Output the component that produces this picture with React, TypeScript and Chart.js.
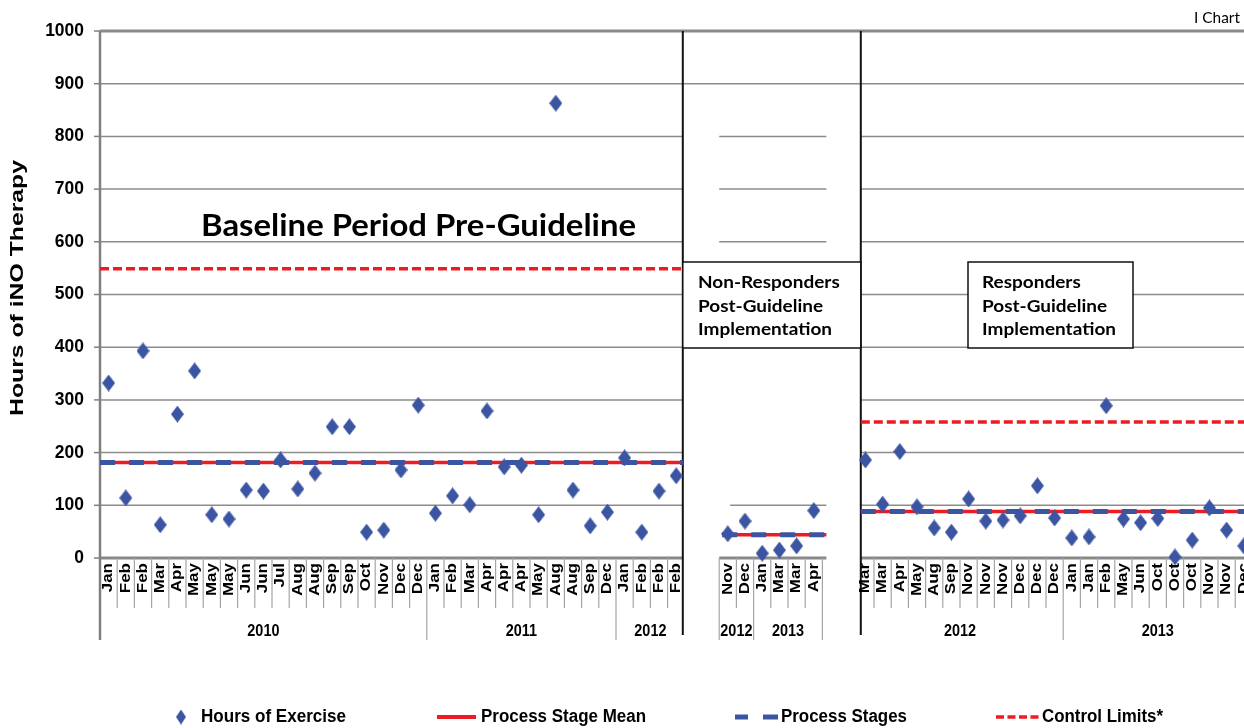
import React, { useEffect, useRef } from 'react';
import { Chart, registerables } from 'chart.js';

Chart.register(...registerables);

// ---------- data ----------
const baselineMonths = ['Jan','Feb','Feb','Mar','Apr','May','May','May','Jun','Jun','Jul','Aug','Aug','Sep','Sep','Oct','Nov','Dec','Dec','Jan','Feb','Mar','Apr','Apr','Apr','May','Aug','Aug','Sep','Dec','Jan','Feb','Feb','Feb'];
const baselineValues = [332,114,393,63,273,355,82,74,129,127,186,131,161,249,249,49,53,167,290,85,118,101,279,173,176,82,863,129,61,87,190,49,127,156];
const baselineYearLabels = ['2010', '2011', '2012'];
const baselineYearCounts = [19, 11, 4];

const nonResponderMonths = ['Nov','Dec','Jan','Mar','Mar','Apr'];
const nonResponderValues = [46,70,9,15,23,90];
const nonResponderYearLabels = ['2012', '2013'];
const nonResponderYearCounts = [2, 4];

const responderMonths = ['Mar','Mar','Apr','May','Aug','Sep','Nov','Nov','Nov','Dec','Dec','Dec','Jan','Jan','Feb','May','Jun','Oct','Oct','Oct','Nov','Nov','Dec'];
const responderValues = [186,102,202,97,57,49,112,70,72,80,137,76,38,40,289,74,67,75,2,34,95,53,23];
const responderYearLabels = ['2012', '2013'];
const responderYearCounts = [12, 11];

const stageMeans = [181, 44, 88];
const stageUpperLimits = [549, null, 258];

const yTickValues = [0,100,200,300,400,500,600,700,800,900,1000];

const legendLabels = ['Hours of Exercise', 'Process Stage Mean', 'Process Stages', 'Control Limits*'];

// ---------- derived ----------
const GAP = 2;
const categoryLabels = [
  ...baselineMonths, ...Array(GAP).fill(''),
  ...nonResponderMonths, ...Array(GAP).fill(''),
  ...responderMonths,
];
const exerciseHours = [
  ...baselineValues, ...Array(GAP).fill(null),
  ...nonResponderValues, ...Array(GAP).fill(null),
  ...responderValues,
];
const stageStart = [0, baselineMonths.length + GAP, baselineMonths.length + nonResponderMonths.length + 2 * GAP];
const stageLength = [baselineMonths.length, nonResponderMonths.length, responderMonths.length];
const stageYearLabels = [baselineYearLabels, nonResponderYearLabels, responderYearLabels];
const stageYearCounts = [baselineYearCounts, nonResponderYearCounts, responderYearCounts];

// ---------- styles ----------
const BLUE = '#3B55A3';
const RED = '#EC1C24';
const GRID = '#8c8c8c';
const AXIS = '#888888';
const SANS = '"Liberation Sans", Arial, sans-serif';
const CAL = 'Lato, "Open Sans", sans-serif';

function makeDiamond(w: number, h: number) {
  const c = document.createElement('canvas');
  c.width = w; c.height = h;
  const g = c.getContext('2d')!;
  g.fillStyle = BLUE;
  g.beginPath();
  g.moveTo(w / 2, 0); g.lineTo(w, h / 2); g.lineTo(w / 2, h); g.lineTo(0, h / 2);
  g.closePath(); g.fill();
  return c;
}

function hLine(ctx: CanvasRenderingContext2D, x1: number, x2: number, y: number, color: string, width: number, dash: number[] = []) {
  ctx.save();
  ctx.strokeStyle = color; ctx.lineWidth = width; ctx.setLineDash(dash);
  ctx.beginPath(); ctx.moveTo(x1, y); ctx.lineTo(x2, y); ctx.stroke();
  ctx.restore();
}
function vLine(ctx: CanvasRenderingContext2D, x: number, y1: number, y2: number, color: string, width: number) {
  ctx.save();
  ctx.strokeStyle = color; ctx.lineWidth = width;
  ctx.beginPath(); ctx.moveTo(x, y1); ctx.lineTo(x, y2); ctx.stroke();
  ctx.restore();
}
function text(ctx: CanvasRenderingContext2D, str: string, x: number, y: number, font: string,
  o: { align?: CanvasTextAlign; sx?: number; sy?: number; rot?: number; color?: string; fit?: number } = {}) {
  ctx.save();
  ctx.translate(x, y);
  if (o.rot) ctx.rotate(o.rot);
  ctx.font = font;
  let sx = o.sx ?? 1;
  if (o.fit) sx = o.fit / ctx.measureText(str).width;
  ctx.scale(sx, o.sy ?? 1);
  ctx.textAlign = o.align ?? 'left';
  ctx.textBaseline = 'middle';
  ctx.fillStyle = o.color ?? '#000';
  ctx.fillText(str, 0, 0);
  ctx.restore();
}

const CANVAS_W = 1262;
const CANVAS_H = 728;

const decorPlugin = {
  id: 'decor',
  beforeDatasetsDraw(chart: any) {
    const ctx: CanvasRenderingContext2D = chart.ctx;
    const xs = chart.scales.x, ys = chart.scales.y, area = chart.chartArea;
    const bnd = (k: number) => xs.getPixelForValue(k - 0.5);
    const py = (v: number) => ys.getPixelForValue(v);
    const sep1 = bnd(stageStart[0] + stageLength[0]) - 2;
    const sep2 = bnd(stageStart[2]) + 4;
    const midL = bnd(stageStart[1]);
    const midR = bnd(stageStart[1] + stageLength[1]) + 4;
    const right = area.right + 20;
    const bottom = area.bottom;

    // grid lines
    for (const v of yTickValues) {
      if (v === 0 || v === 1000) continue;
      hLine(ctx, area.left, sep1, py(v), GRID, 1.5);
      hLine(ctx, sep2, right, py(v), GRID, 1.5);
    }
    hLine(ctx, sep1, sep2, py(900), GRID, 1.5);
    for (const v of [800, 700, 600]) hLine(ctx, midL, midR, py(v), GRID, 1.5);
    hLine(ctx, midL + 11, midR, py(100), GRID, 1.5);
    // top border
    hLine(ctx, area.left, right, py(1000), '#8a8a8a', 3);

    // x axis lines
    hLine(ctx, area.left, sep1, bottom, AXIS, 3);
    hLine(ctx, midL, midR, bottom, AXIS, 3);
    hLine(ctx, sep2, right, bottom, AXIS, 3);

    // category / year separators under the axis
    const tickEnd = bottom + 50;
    const yearEnd = bottom + 82;
    for (let s = 0; s < 3; s++) {
      const start = stageStart[s], end = start + stageLength[s];
      const yearBounds = new Set<number>();
      let acc = start;
      for (const c of stageYearCounts[s]) { acc += c; yearBounds.add(acc); }
      for (let k = start; k <= end; k++) {
        if (s === 0 && (k === start || k === end)) continue;
        if (s === 2 && k === start) continue;
        const long = k === start || k === end || yearBounds.has(k);
        vLine(ctx, bnd(k), bottom, long ? yearEnd : tickEnd, '#a5a5a5', 1.2);
      }
    }
    // y axis line and ticks
    vLine(ctx, area.left, area.top, bottom + 82, '#808080', 2.5);
    for (const v of yTickValues) hLine(ctx, area.left - 6, area.left, py(v), '#808080', 1.5);

    // stage separators
    vLine(ctx, sep1, area.top, bottom + 77, '#111', 2);
    vLine(ctx, sep2, area.top, bottom + 77, '#111', 2);

    // control limits
    if (stageUpperLimits[0] != null) hLine(ctx, area.left, sep1, py(stageUpperLimits[0]!), RED, 3.5, [9, 4]);
    if (stageUpperLimits[2] != null) hLine(ctx, sep2, right, py(stageUpperLimits[2]!), RED, 3.5, [9, 4]);

    // stage means + process stages
    const spans = [[area.left, sep1], [midL + 3, midR], [sep2, right]];
    spans.forEach(([a, b], s) => {
      hLine(ctx, a, b, py(stageMeans[s]), RED, 3.5);
      hLine(ctx, a, b, py(stageMeans[s]), BLUE, 5, [15, 14]);
    });
  },
  afterDatasetsDraw(chart: any) {
    const ctx: CanvasRenderingContext2D = chart.ctx;
    const xs = chart.scales.x, ys = chart.scales.y, area = chart.chartArea;
    const bnd = (k: number) => xs.getPixelForValue(k - 0.5);
    const py = (v: number) => ys.getPixelForValue(v);
    const sep1 = bnd(stageStart[0] + stageLength[0]) - 2;
    const sep2 = bnd(stageStart[2]) + 4;
    const bottom = area.bottom;

    // annotation boxes
    const box = (x1: number, x2: number, y1: number, y2: number) => {
      ctx.save();
      ctx.fillStyle = '#fff';
      ctx.fillRect(x1, y1, x2 - x1, y2 - y1);
      ctx.strokeStyle = '#111'; ctx.lineWidth = 1.5;
      ctx.strokeRect(x1, y1, x2 - x1, y2 - y1);
      ctx.restore();
    };
    box(sep1, sep2, 262, 348);
    box(968, 1133, 262, 348);
    const boxFont = `bold 17px ${CAL}`;
    ctx.font = boxFont;
    const bsx = 134 / ctx.measureText('Implementation').width;
    ['Non-Responders', 'Post-Guideline', 'Implementation'].forEach((t, i) =>
      text(ctx, t, 698, 283 + i * 23.5, boxFont, { sx: bsx }));
    ['Responders', 'Post-Guideline', 'Implementation'].forEach((t, i) =>
      text(ctx, t, 982, 283 + i * 23.5, boxFont, { sx: bsx }));

    // baseline title
    text(ctx, 'Baseline Period Pre-Guideline', 201, 226, `bold 30px ${CAL}`, { fit: 435 });
    // corner label
    text(ctx, 'I Chart', 1240, 18, `16px ${CAL}`, { align: 'right', fit: 46 });

    // y tick labels
    for (const v of yTickValues) text(ctx, String(v), 84, py(v), `bold 18px ${SANS}`, { align: 'right', sx: 0.97 });
    // y title
    text(ctx, 'Hours of iNO Therapy', 18, 288, `bold 24px ${SANS}`, { align: 'center', rot: -Math.PI / 2, sy: 0.8, fit: 256 });

    // category labels
    categoryLabels.forEach((lab, i) => {
      if (!lab) return;
      text(ctx, lab, xs.getPixelForValue(i), bottom + 5, `bold 17px ${SANS}`, { align: 'right', rot: -Math.PI / 2, sy: 0.82 });
    });
    // year labels
    for (let s = 0; s < 3; s++) {
      let k = stageStart[s];
      stageYearLabels[s].forEach((lab, j) => {
        const a = k, b = k + stageYearCounts[s][j];
        k = b;
        const x = (bnd(a) + bnd(b)) / 2;
        text(ctx, lab, x, bottom + 73, `bold 17px ${SANS}`, { align: 'center', sx: 0.85 });
      });
    }

    // legend
    const ly = 717;
    const lf = `bold 18px ${SANS}`;
    ctx.drawImage(diamondLegend, 181 - 5, ly - 7.5, 10, 15);
    text(ctx, legendLabels[0], 201, ly, lf, { fit: 145 });
    hLine(ctx, 437, 476, ly, RED, 4);
    text(ctx, legendLabels[1], 481, ly, lf, { fit: 165 });
    hLine(ctx, 735, 748, ly, BLUE, 5);
    hLine(ctx, 763, 778, ly, BLUE, 5);
    text(ctx, legendLabels[2], 781, ly, lf, { fit: 126 });
    hLine(ctx, 996, 1039, ly, RED, 3.5, [8, 3.5]);
    text(ctx, legendLabels[3], 1042, ly, lf, { fit: 121 });
  },
};

const diamondPoint = makeDiamond(13, 17);
const diamondLegend = makeDiamond(10, 15);

export default function App() {
  const ref = useRef<HTMLCanvasElement>(null);
  useEffect(() => {
    const chart = new Chart(ref.current!, {
      type: 'line',
      data: {
        labels: categoryLabels,
        datasets: [{
          label: legendLabels[0],
          data: exerciseHours,
          showLine: false,
          pointStyle: diamondPoint as any,
          pointRadius: 6,
          pointBackgroundColor: BLUE,
          borderColor: BLUE,
          clip: false as any,
        }],
      },
      options: {
        responsive: false,
        animation: false,
        layout: { padding: { left: 100, top: 31, right: CANVAS_W - 1252.4, bottom: CANVAS_H - 558 } },
        plugins: { legend: { display: false }, tooltip: { enabled: false } },
        scales: {
          x: { type: 'category', offset: true, display: false },
          y: { min: 0, max: 1000, display: false },
        },
      },
      plugins: [decorPlugin],
    });
    return () => chart.destroy();
  }, []);
  return (
    <div style={{ position: 'fixed', left: 0, top: 0, width: 1244, height: 728, overflow: 'hidden', background: '#fff' }}>
      <canvas ref={ref} width={CANVAS_W} height={CANVAS_H} style={{ display: 'block' }} />
    </div>
  );
}
